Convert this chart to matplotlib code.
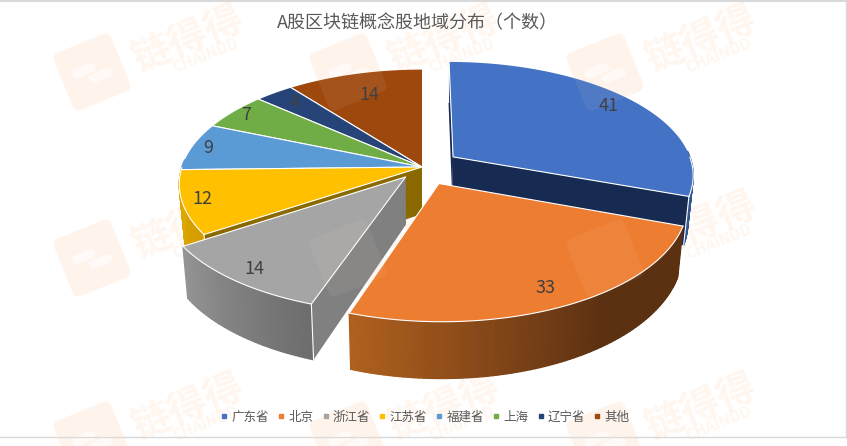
# -*- coding: utf-8 -*-
"""A股区块链概念股地域分布 三维分离饼图 (matplotlib 没有透视饼图, 手工投影)"""
import matplotlib
matplotlib.use("Agg")
import matplotlib.pyplot as plt
import numpy as np
from matplotlib.colors import to_rgb
from matplotlib.lines import Line2D
from matplotlib.patches import FancyBboxPatch
from matplotlib.transforms import Affine2D

plt.rcParams["font.family"] = ["Noto Sans CJK SC", "DejaVu Sans"]

title = "A股区块链概念股地域分布（个数）"
names = ["广东省", "北京", "浙江省", "江苏省", "福建省", "上海", "辽宁省", "其他"]
values = [41, 33, 14, 12, 9, 7, 4, 14]
colors = ["#4472c4", "#ed7d31", "#a5a5a5", "#ffc000", "#5b9bd5", "#70ad47", "#264478", "#9e480e"]
explode = [0.16, 0.16, 0.11, 0, 0, 0, 0, 0]
label_radius = [0.87, 0.87, 0.90, 0.92, 0.93, 0.93, 0.85, 0.75]

# 外侧面渐变: 颜色1, 颜色2 (角度从小到大)
wall_colors = {
    0: ("#2a4a7f", "#33578f"),
    1: ("#5c3112", "#b0601f"),
    2: ("#6c6c6c", "#949494"),
    3: ("#d29c00", "#e0a900"),
}

# 透视参数 (像素)
XC, YC, R, KR, P, DEPTH = 422, 167, 240, 112, 0.15, 47
WIDTH, HEIGHT = 847, 446


def project(x, z, h=0.0):
    s = 1 / (1 - P * z)
    return XC + x * R * s * (1 - 0.02 * h), YC + z * KR * s + h * DEPTH * s


def ring(theta, cx, cz, r=1.0):
    return cx + r * np.sin(theta), cz - r * np.cos(theta)


def blend(c0, c1, t):
    c0, c1 = np.array(to_rgb(c0)), np.array(to_rgb(c1))
    return c0 + (c1 - c0) * t


def draw_cut(ax, cx, cz, ex, ez, color, order):
    px, py = zip(*[project(a, b, c) for a, b, c in
                   [(cx, cz, 0), (ex, ez, 0), (ex, ez, 1), (cx, cz, 1)]])
    ax.fill(px, py, color=color, lw=0, zorder=order)
    ax.plot(px[1:3], py[1:3], color="white", lw=0.8, zorder=order)


def draw_slice(ax, i, a0, a1, order):
    mid = (a0 + a1) / 2
    cx, cz = explode[i] * np.sin(mid), -explode[i] * np.cos(mid)
    th = np.linspace(a0, a1, max(int(np.degrees(a1 - a0)), 2) + 1)
    ox, oz = ring(th, cx, cz)

    # 外侧面, 一度一块做渐变; 背面的看不见, 不画
    c0, c1 = wall_colors.get(i, (colors[i], colors[i]))
    for k in range(len(th) - 1):
        if np.cos(th[k]) > 0.05 and np.cos(th[k + 1]) > 0.05:
            continue
        tx = [ox[k], ox[k + 1], ox[k + 1], ox[k]]
        tz = [oz[k], oz[k + 1], oz[k + 1], oz[k]]
        hh = [0, 0, 1, 1]
        px, py = zip(*[project(a, b, c) for a, b, c in zip(tx, tz, hh)])
        t = (k + 0.5) / (len(th) - 1)
        if i == 1:
            t = max(0, (t - 0.4) / 0.6)
        ax.fill(px, py, color=blend(c0, c1, t), lw=1.0, joinstyle="round", zorder=order)

    # 朝前的切面
    if i == 0:
        draw_cut(ax, cx, cz, ox[0], oz[0], "#172b52", order)
        draw_cut(ax, cx, cz, ox[-1], oz[-1], "#172b52", order)
    elif i == 2:
        draw_cut(ax, cx, cz, ox[0], oz[0], "#808080", order)
    elif i == 3:
        draw_cut(ax, cx, cz, ox[0], oz[0], "#8a6a00", order)

    # 顶面
    px, py = project(ox, oz)
    ax0, ay0 = project(cx, cz)
    ax.fill(np.r_[ax0, px], np.r_[ay0, py], color=colors[i], lw=0, zorder=order)
    if i == 7:  # 其他 的右边缘没有白线
        ax.plot([px[0], ax0], [py[0], ay0], color="white", lw=0.8, zorder=order)
    else:
        ax.plot([px[0], ax0, px[-1]], [py[0], ay0, py[-1]], color="white", lw=0.8, zorder=order)
    front = (th > np.pi / 2) & (th < 3 * np.pi / 2)
    if front.any():
        ax.plot(px[front], py[front], color="white", lw=0.8, zorder=order)

    # 数字
    lx, lz = ring(mid, cx, cz, label_radius[i])
    tx, ty = project(lx, lz)
    ax.text(tx, ty, str(values[i]), ha="center", va="center", fontsize=13,
            color="#404040", zorder=70)


def draw_watermark(ax, x, y):
    rot = Affine2D().rotate_deg_around(x, y, -22) + ax.transData
    wm = "#ff8a2a"
    ax.add_patch(FancyBboxPatch((x - 31, y - 31), 62, 62, boxstyle="round,pad=0,rounding_size=7",
                                fc=wm, ec="none", alpha=0.08, transform=rot, zorder=1))
    for dx, dy, w, h in [(-19, -9, 24, 9), (-5, 2, 24, 9)]:
        ax.add_patch(FancyBboxPatch((x + dx, y + dy), w, h, boxstyle="round,pad=0,rounding_size=4",
                                    fc="white", ec="none", alpha=0.8, transform=rot, zorder=2))
    ax.text(x + 96, y - 33, "链得得", fontsize=28, fontweight="bold", color=wm, alpha=0.08,
            rotation=22, ha="center", va="center", rotation_mode="anchor", zorder=1)
    ax.text(x + 113, y - 17, "CHAINDD", fontsize=11, fontweight="bold", color=wm, alpha=0.08,
            rotation=22, ha="center", va="center", rotation_mode="anchor", zorder=1)
    # 压在饼上的部分很淡
    ax.add_patch(FancyBboxPatch((x - 31, y - 31), 62, 62, boxstyle="round,pad=0,rounding_size=7",
                                fc="#ffe8d6", ec="none", alpha=0.07, transform=rot, zorder=50))


fig = plt.figure(figsize=(WIDTH / 100, HEIGHT / 100), dpi=100)
ax = fig.add_axes([0, 0, 1, 1])
ax.set_xlim(0, WIDTH)
ax.set_ylim(HEIGHT, 0)
ax.axis("off")

# 画框
ax.plot([0, WIDTH], [0.5, 0.5], color="#d9d9d9", lw=1.5, zorder=3)
ax.plot([WIDTH - 1, WIDTH - 1], [0, 437], color="#d9d9d9", lw=1, zorder=3)
ax.plot([0, WIDTH], [437, 437], color="#d9d9d9", lw=1, zorder=3)

angles = np.cumsum([0] + values) / sum(values) * 2 * np.pi
# 由后往前画
for order, i in enumerate([7, 6, 5, 4, 3, 2, 0, 1]):
    draw_slice(ax, i, angles[i], angles[i + 1], 10 + order)

for wx in (92, 348, 605):
    for wy in (72, 258, 440):
        draw_watermark(ax, wx, wy)

ax.text(417, 23, title, ha="center", va="center", fontsize=13, color="#595959", zorder=70)

handles = [Line2D([], [], ls="", marker="s", ms=3, color=c) for c in colors]
ax.legend(handles, names, ncol=len(names), loc="center", bbox_to_anchor=(425.5, 417),
          bbox_transform=ax.transData, frameon=False, fontsize=9, labelcolor="#595959",
          handlelength=0.5, handletextpad=0.35, columnspacing=0.7, borderpad=0).set_zorder(70)

fig.savefig("out.png", dpi=100)
